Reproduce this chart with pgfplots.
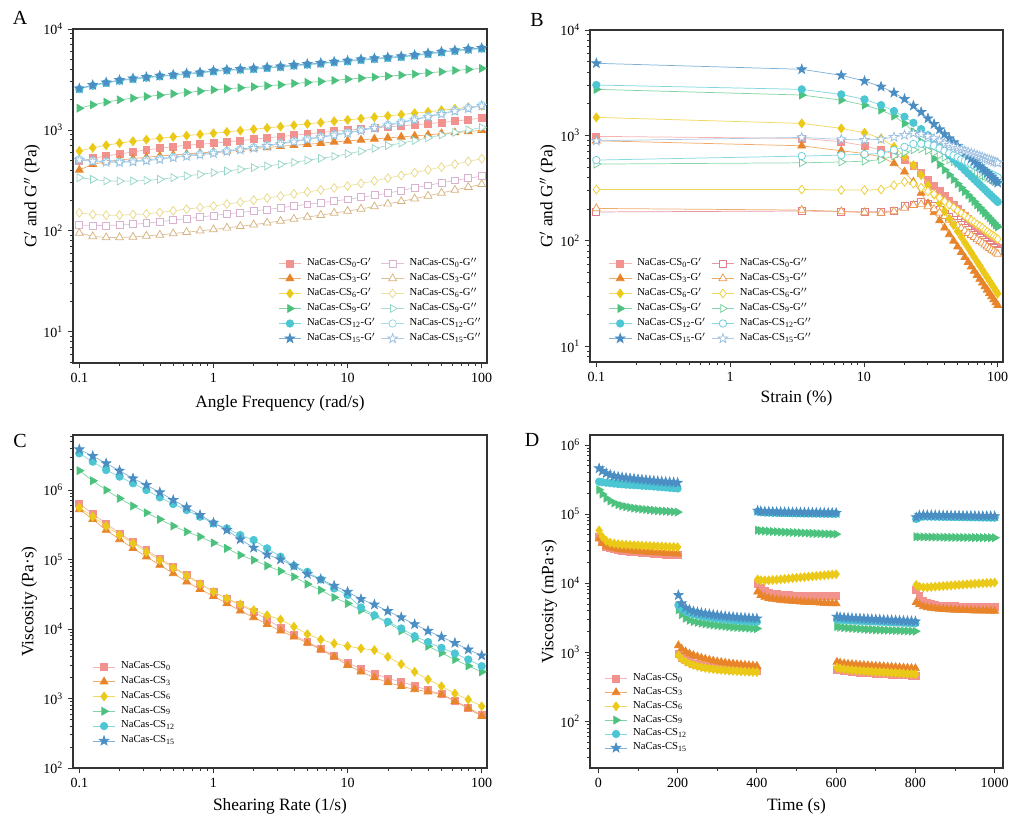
\documentclass[border=0pt]{standalone}
\usepackage{fontspec}
\setmainfont{Liberation Serif}
\usepackage{pgfplots}
\pgfplotsset{compat=1.18}
\usepackage{pgfplotstable}

\definecolor{cP}{HTML}{F2928F}
\definecolor{cO}{HTML}{E8852A}
\definecolor{cY}{HTML}{EBC918}
\definecolor{cG}{HTML}{4CC27E}
\definecolor{cC}{HTML}{4CC6D2}
\definecolor{cB}{HTML}{4A8EC4}
\definecolor{lP}{HTML}{D8B2CF}
\definecolor{lO}{HTML}{D6B27E}
\definecolor{lY}{HTML}{E8D986}
\definecolor{lG}{HTML}{93D5C6}
\definecolor{lC}{HTML}{8DD6E2}
\definecolor{lB}{HTML}{99BEE0}
\colorlet{bP}{cP!85!violet}
\colorlet{bO}{cO!85}
\colorlet{bY}{cY!90}
\colorlet{bG}{cG!80}
\colorlet{bC}{cC!85}
\definecolor{axc}{HTML}{333333}

\pgfdeclareplotmark{fstar}{%
 \pgfpathmoveto{\pgfqpoint{0pt}{\pgfplotmarksize}}%
 \pgfpathlineto{\pgfqpoint{0.235\pgfplotmarksize}{0.324\pgfplotmarksize}}%
 \pgfpathlineto{\pgfqpoint{0.951\pgfplotmarksize}{0.309\pgfplotmarksize}}%
 \pgfpathlineto{\pgfqpoint{0.380\pgfplotmarksize}{-0.124\pgfplotmarksize}}%
 \pgfpathlineto{\pgfqpoint{0.588\pgfplotmarksize}{-0.809\pgfplotmarksize}}%
 \pgfpathlineto{\pgfqpoint{0pt}{-0.4\pgfplotmarksize}}%
 \pgfpathlineto{\pgfqpoint{-0.588\pgfplotmarksize}{-0.809\pgfplotmarksize}}%
 \pgfpathlineto{\pgfqpoint{-0.380\pgfplotmarksize}{-0.124\pgfplotmarksize}}%
 \pgfpathlineto{\pgfqpoint{-0.951\pgfplotmarksize}{0.309\pgfplotmarksize}}%
 \pgfpathlineto{\pgfqpoint{-0.235\pgfplotmarksize}{0.324\pgfplotmarksize}}%
 \pgfpathclose
 \pgfusepathqfillstroke}

\pgfplotsset{
 mk0/.style={mark=square*, mark size=2.6pt},
 mk3/.style={mark=triangle*, mark size=3.4pt},
 mk6/.style={mark=diamond*, mark size=3.3pt},
 mk9/.style={mark=triangle*, mark size=3.4pt, every mark/.append style={rotate=-90}},
 mk12/.style={mark=*, mark size=2.8pt},
 mk15/.style={mark=fstar, mark size=3.7pt},
 cc/.style={color=#1!70, every mark/.append style={draw=#1, fill=#1}},
 oc/.style={color=#1!80, every mark/.append style={draw=#1, fill=white}},
 every axis plot/.append style={line width=0.55pt},
}
\newcommand{\sn}[1]{NaCas-CS\textsubscript{#1}}

\pgfplotstableread{
x g0 g3 g6 g9 g12 g15 h0 h3 h6 h9 h12 h15
0.1 492 401 619 1641 2535 2574 114 95 151 336 512 504
0.1259 523 456 665 1772 2736 2778 113 88 145 324 495 488
0.1585 552 485 705 1883 2909 2953 113 86 143 312 486 479
0.1995 578 504 740 1986 3068 3115 114 86 143 311 484 477
0.2512 605 519 772 2064 3186 3235 116 87 145 312 490 483
0.3162 633 535 800 2144 3286 3336 119 89 147 316 504 496
0.3981 658 552 828 2210 3388 3440 123 91 152 324 518 510
0.5012 683 565 852 2279 3466 3519 128 94 158 336 540 532
0.6310 704 578 878 2349 3573 3627 132 97 164 350 557 549
0.7943 721 591 903 2422 3655 3711 137 100 170 363 576 567
1 737 605 927 2497 3797 3855 142 103 176 377 596 587
1.259 760 619 955 2555 3886 3945 147 107 184 392 620 611
1.585 784 638 985 2614 3946 4006 152 111 192 407 645 635
1.995 808 653 1015 2675 4006 4067 157 115 201 423 672 662
2.512 833 668 1047 2736 4099 4161 163 120 211 439 703 692
3.162 859 688 1079 2799 4193 4257 169 125 221 456 737 726
3.981 885 704 1112 2886 4323 4389 176 131 232 478 775 763
5.012 913 721 1147 2953 4424 4491 183 137 243 500 815 803
6.310 941 737 1183 3021 4526 4595 190 143 254 523 856 843
7.943 970 760 1219 3091 4667 4738 197 150 266 547 898 885
10 992 778 1257 3187 4774 4847 205 157 278 580 941 927
12.59 1023 796 1296 3261 4922 4997 215 165 295 615 1000 985
15.85 1047 814 1336 3336 5036 5113 225 174 312 655 1060 1044
19.95 1071 833 1377 3413 5153 5231 236 185 332 700 1125 1108
25.12 1096 852 1420 3492 5273 5353 251 196 354 740 1195 1177
31.62 1121 872 1464 3573 5435 5518 267 208 377 785 1277 1258
39.81 1156 892 1509 3684 5647 5733 282 222 402 835 1365 1345
50.12 1183 920 1568 3769 5866 5955 299 237 428 890 1460 1438
63.10 1219 941 1617 3886 6048 6140 316 254 457 945 1555 1532
79.43 1267 963 1679 3976 6235 6330 332 271 487 1000 1655 1630
100 1306 992 1731 4067 6380 6477 349 289 519 1055 1758 1732
}\tA

\pgfplotstableread{
x g0 g3 g6 g9 g12 g15 h0 h3 h6 h9 h12 h15
0.1 980 890 1483 2735 3007 4830 188 203 307 535 584 890
3.43 937 798 1300 2416 2735 4238 192 196 307 550 637 957
6.77 872 715 1166 2163 2450 3715 190 190 303 560 650 917
10.1 798 674 1060 1940 2197 3283 188 186 303 570 665 905
13.43 726 627 937 1740 1940 2900 190 184 307 590 675 920
16.77 666 542 781 1527 1703 2543 192 190 337 640 726 965
20.1 590 452 637 1300 1503 2213 213 205 363 690 780 1007
23.43 510 363 523 1083 1318 1914 222 218 350 730 830 1050
26.77 441 284 420 871 1148 1666 232 222 320 745 835 1030
30.1 381 226 337 726 1007 1449 225 212 295 720 825 985
33.43 334 186 274 603 891 1282 214 200 278 690 800 937
36.77 297 156 227 530 793 1141 197 185 256 652 754 890
40.1 266 133 191 471 714 1027 182 171 237 620 713 840
43.43 241 115 163 423 647 937 169 158 220 591 678 809
46.77 220 99.9 141 382 591 860 159 149 207 565 647 782
50.1 202 88.0 123 348 544 794 149 140 194 543 620 757
53.43 186 78.1 109 319 503 737 141 132 183 522 595 735
56.77 172 69.8 96.4 294 467 687 133 125 173 504 573 715
60.1 161 62.8 86.2 272 435 643 126 118 164 487 552 696
63.43 150 56.9 77.5 253 408 604 120 113 156 472 534 679
66.77 141 51.7 70.0 236 383 569 115 108 150 458 517 663
70.1 133 47.3 63.6 220 361 538 110 103 143 445 501 649
73.43 125 43.4 58.1 207 341 509 106 99 138 432 486 635
76.77 118 40.0 53.2 195 323 484 102 96 133 421 473 622
80.1 112 36.9 48.9 184 307 461 97.7 92 127 411 460 609
83.43 107 34.3 45.1 174 292 439 94.1 88 122 401 449 598
86.77 101 31.9 41.8 165 278 420 90.9 85 118 392 438 587
90.1 96.8 29.7 38.8 157 266 402 87.9 82 114 383 427 577
93.43 92.6 27.8 36.1 149 254 385 85.0 80 111 375 418 567
96.77 88.6 26.0 33.7 142 244 370 82.4 77 107 367 408 558
100 85 24.5 31.6 136 234 356 80 75 104 360 400 550
}\tB

\pgfplotstableread{
x c0 c3 c6 c9 c12 c15
0.1 6.43e5 5.27e5 5.63e5 1.90e6 3.37e6 3.85e6
0.1259 4.51e5 3.79e5 4.13e5 1.36e6 2.56e6 3.09e6
0.1585 3.31e5 2.66e5 3.04e5 1.00e6 1.94e6 2.42e6
0.1995 2.38e5 1.95e5 2.25e5 7.59e5 1.56e6 1.90e6
0.2512 1.80e5 1.45e5 1.71e5 5.89e5 1.25e6 1.47e6
0.3162 1.37e5 1.10e5 1.29e5 4.72e5 1.00e6 1.18e6
0.3981 1.04e5 8.32e4 9.82e4 3.79e5 7.84e5 9.26e5
0.5012 7.87e4 6.31e4 7.61e4 3.04e5 6.29e5 7.18e5
0.6310 5.97e4 4.79e4 5.84e4 2.51e5 5.15e5 5.63e5
0.7943 4.53e4 3.75e4 4.43e4 2.13e5 4.13e5 4.37e5
1 3.44e4 2.97e4 3.44e4 1.74e5 3.31e5 3.38e5
1.259 2.75e4 2.33e4 2.75e4 1.45e5 2.81e5 2.66e5
1.585 2.21e4 1.83e4 2.26e4 1.16e5 2.25e5 1.95e5
1.995 1.77e4 1.47e4 1.87e4 9.82e4 1.91e5 1.48e5
2.512 1.37e4 1.17e4 1.58e4 8.13e4 1.45e5 1.18e5
3.162 1.05e4 9.42e3 1.37e4 6.81e4 1.10e5 1.00e5
3.981 8.16e3 7.72e3 1.08e4 5.65e4 8.13e4 8.10e4
5.012 6.54e3 6.33e3 8.44e3 4.43e4 6.66e4 6.20e4
6.310 5.25e3 5.07e3 7.06e3 3.63e4 5.17e4 5.20e4
7.943 4.07e3 3.98e3 6.19e3 2.85e4 3.84e4 4.20e4
10 3.26e3 3.02e3 5.67e3 2.33e4 3.08e4 3.43e4
12.59 2.70e3 2.42e3 5.25e3 1.87e4 2.04e4 2.69e4
15.85 2.29e3 2.00e3 4.97e3 1.53e4 1.58e4 2.25e4
19.95 1.94e3 1.70e3 3.98e3 1.23e4 1.27e4 1.81e4
25.12 1.74e3 1.50e3 3.12e3 9.42e3 1.02e4 1.47e4
31.62 1.52e3 1.35e3 2.42e3 7.31e3 7.90e3 1.17e4
39.81 1.32e3 1.25e3 1.88e3 5.67e3 6.50e3 9.40e3
50.12 1.15e3 1.14e3 1.50e3 4.54e3 5.36e3 7.70e3
63.10 925 915 1.18e3 3.64e3 4.45e3 6.30e3
79.43 741 718 966 2.95e3 3.64e3 5.07e3
100 575 556 774 2.42e3 2.92e3 4.16e3
}\tC

\pgfplotstableread{
t d0 d3 d6 d9 d12 d15
2 47000 44000 58000 225000 295000 460000
10 39000 38000 47000 195000 290000 420000
20 34000 34500 41000 170000 285000 390000
30 32000 33000 38500 155000 281000 370000
40 31000 32000 37500 145000 277000 355000
50 30200 31200 36800 137000 273000 347000
60 29600 30600 36300 132000 270000 340000
70 29100 30100 36000 128000 267000 335000
80 28700 29700 35700 125000 265000 330000
90 28300 29300 35500 122000 263000 325000
100 28000 29000 35300 120000 261000 320000
110 27700 28700 35000 118000 258000 316000
120 27400 28400 34800 116500 256000 312000
130 27100 28100 34600 115000 254000 308000
140 26800 27900 34400 113500 251000 304000
150 26500 27700 34200 112000 248000 300000
160 26200 27500 34000 111000 246000 297000
170 26000 27300 33800 110000 243000 294000
180 25800 27100 33600 109000 240000 291000
190 25600 26900 33400 108000 238000 288000
200 25400 26700 33200 107000 235000 285000
201 nan nan nan nan nan nan
202 945 1250 900 4100 4800 6700
210 840 1120 800 3500 4300 5100
220 767 1020 730 3100 3900 4400
230 719 950 685 2900 3700 4100
240 683 900 650 2780 3550 3900
250 656 860 625 2700 3450 3800
260 635 825 605 2630 3350 3700
270 620 795 590 2570 3270 3620
280 607 770 578 2520 3200 3550
290 596 750 568 2480 3140 3480
300 588 730 560 2440 3090 3420
310 581 715 553 2400 3040 3370
320 574 700 547 2370 3000 3320
330 568 688 541 2340 2960 3280
340 563 677 536 2310 2920 3240
350 558 667 531 2290 2890 3200
360 553 658 527 2270 2860 3170
370 549 650 523 2250 2830 3140
380 546 642 520 2230 2800 3110
390 543 635 517 2210 2780 3090
400 540 628 514 2200 2760 3070
401 nan nan nan nan nan nan
402 9900 7500 11300 58500 108600 112000
410 8500 6700 11000 57500 106700 110000
420 7700 6300 10950 57000 105700 109000
430 7300 6050 11000 56500 105200 108500
440 7050 5900 11100 56000 104800 108000
450 6900 5800 11200 55600 104300 107500
460 6800 5700 11350 55200 103800 107000
470 6730 5630 11500 54800 103600 106800
480 6680 5560 11650 54500 103300 106500
490 6640 5500 11800 54200 103000 106200
500 6610 5450 11950 53900 102800 106000
510 6590 5400 12100 53600 102600 105800
520 6570 5350 12250 53300 102400 105600
530 6560 5310 12400 53000 102200 105400
540 6550 5270 12550 52700 102000 105200
550 6540 5230 12700 52400 101900 105000
560 6530 5190 12850 52100 101700 104800
570 6520 5150 13000 51800 101500 104600
580 6510 5120 13150 51600 101300 104400
590 6500 5090 13300 51400 101100 104200
600 6490 5060 13450 51200 100900 104000
601 nan nan nan nan nan nan
602 560 720 600 2350 3000 3250
610 545 700 580 2300 2950 3200
620 535 685 567 2270 2920 3170
630 527 675 558 2240 2900 3140
640 520 667 551 2220 2880 3110
650 514 660 545 2200 2860 3090
660 508 653 539 2180 2840 3070
670 503 647 534 2160 2820 3050
680 498 641 529 2140 2800 3030
690 494 635 524 2130 2790 3010
700 490 630 520 2110 2780 2990
710 486 625 516 2100 2760 2970
720 482 620 512 2090 2750 2950
730 478 615 508 2080 2730 2930
740 474 610 504 2070 2720 2910
750 470 605 500 2060 2700 2890
760 467 600 496 2050 2690 2870
770 464 595 492 2040 2670 2850
780 461 590 488 2030 2660 2830
790 458 586 484 2020 2640 2810
800 455 582 480 2010 2630 2790
801 nan nan nan nan nan nan
802 7900 5300 9400 47000 85000 90000
810 6500 4900 8900 46800 90000 96000
820 5600 4600 8700 46700 92000 97000
830 5200 4450 8700 46600 92000 96800
840 5000 4350 8800 46500 91800 96500
850 4850 4280 8900 46400 91600 96200
860 4770 4230 8990 46300 91400 96000
870 4720 4190 9080 46200 91200 95800
880 4680 4160 9170 46100 91000 95600
890 4650 4130 9260 46000 90800 95400
900 4620 4100 9350 45950 90600 95200
910 4600 4080 9440 45900 90400 95000
920 4590 4060 9530 45850 90200 94800
930 4580 4040 9620 45800 90000 94600
940 4570 4020 9710 45750 89800 94400
950 4560 4000 9800 45700 89600 94200
960 4550 3990 9880 45650 89400 94000
970 4540 3980 9960 45600 89200 93800
980 4530 3970 10040 45550 89000 93600
990 4520 3960 10120 45500 88800 93400
1000 4510 3950 10200 45450 88600 93200
}\tD

\pgfplotsset{every axis/.append style={
  scale only axis, clip mode=individual,
  axis line style={line width=0.8pt, axc},
  every tick/.style={line width=0.6pt, axc},
  tick align=outside, tick pos=left,
  major tick length=4pt, minor tick length=2.4pt,
  ticklabel style={font=\fontsize{10.5}{12}\selectfont},
  label style={font=\fontsize{13}{15}\selectfont},
  legend style={draw=none, fill=none, font=\fontsize{8}{9.5}\selectfont,
   anchor=north west, inner xsep=0pt, inner ysep=0pt,
   nodes={inner sep=1pt, text depth=0.25em}, row sep=0.6pt, column sep=3pt},
  legend cell align=left,
  unbounded coords=jump,
  enlargelimits=false,
}}

\begin{document}
\begin{tikzpicture}
\path[use as bounding box] (0,0) rectangle (768pt,624pt);

% ---------------- A
\begin{axis}[at={(54.75pt,351.75pt)}, anchor=south west,
 width=310.5pt, height=250.5pt,
 xmode=log, xmin=0.0897, xmax=109.5,
 xtick={0.1,1,10,100}, xticklabels={0.1,1,10,100},
 minor xtick={0.2,0.3,0.4,0.5,0.6,0.7,0.8,0.9,2,3,4,5,6,7,8,9,20,30,40,50,60,70,80,90},
 ymode=log, ymin=4.9, ymax=10000,
 ytick={10,100,1000,10000},
 yticklabels={10\textsuperscript{1},10\textsuperscript{2},10\textsuperscript{3},10\textsuperscript{4}},
 minor ytick={5,6,7,8,9,20,30,40,50,60,70,80,90,200,300,400,500,600,700,800,900,2000,3000,4000,5000,6000,7000,8000,9000},
 xlabel={Angle Frequency (rad/s)}, ylabel={G$'$ and G$''$ (Pa)},
 xlabel style={at={(axis description cs:0.5,-0.12)}, anchor=center},
 ylabel style={at={(axis description cs:-0.099,0.5)}, anchor=center},
 legend columns=2,
 legend style={at={(0.495,0.32)}},
]
\addplot[mk0,cc=cP] table[x=x,y=g0]{\tA}; \addlegendentry{\sn{0}-G$'$}
\addplot[mk0,oc=lP] table[x=x,y=h0]{\tA}; \addlegendentry{\sn{0}-G$''$}
\addplot[mk3,cc=cO] table[x=x,y=g3]{\tA}; \addlegendentry{\sn{3}-G$'$}
\addplot[mk3,oc=lO] table[x=x,y=h3]{\tA}; \addlegendentry{\sn{3}-G$''$}
\addplot[mk6,cc=cY] table[x=x,y=g6]{\tA}; \addlegendentry{\sn{6}-G$'$}
\addplot[mk6,oc=lY] table[x=x,y=h6]{\tA}; \addlegendentry{\sn{6}-G$''$}
\addplot[mk9,cc=cG] table[x=x,y=g9]{\tA}; \addlegendentry{\sn{9}-G$'$}
\addplot[mk9,oc=lG] table[x=x,y=h9]{\tA}; \addlegendentry{\sn{9}-G$''$}
\addplot[mk12,cc=cC] table[x=x,y=g12]{\tA}; \addlegendentry{\sn{12}-G$'$}
\addplot[mk12,oc=lC] table[x=x,y=h12]{\tA}; \addlegendentry{\sn{12}-G$''$}
\addplot[mk15,cc=cB] table[x=x,y=g15]{\tA}; \addlegendentry{\sn{15}-G$'$}
\addplot[mk15,oc=lB] table[x=x,y=h15]{\tA}; \addlegendentry{\sn{15}-G$''$}
\end{axis}

% ---------------- B
\begin{axis}[at={(442.5pt,352.5pt)}, anchor=south west,
 width=309.75pt, height=249pt,
 xmode=log, xmin=0.0897, xmax=109.5,
 xtick={0.1,1,10,100}, xticklabels={0.1,1,10,100},
 minor xtick={0.2,0.3,0.4,0.5,0.6,0.7,0.8,0.9,2,3,4,5,6,7,8,9,20,30,40,50,60,70,80,90},
 ymode=log, ymin=7.1, ymax=10000,
 ytick={10,100,1000,10000},
 yticklabels={10\textsuperscript{1},10\textsuperscript{2},10\textsuperscript{3},10\textsuperscript{4}},
 minor ytick={8,9,20,30,40,50,60,70,80,90,200,300,400,500,600,700,800,900,2000,3000,4000,5000,6000,7000,8000,9000},
 xlabel={Strain (\%)}, ylabel={G$'$ and G$''$ (Pa)},
 xlabel style={at={(axis description cs:0.5,-0.108)}, anchor=center},
 ylabel style={at={(axis description cs:-0.102,0.5)}, anchor=center},
 legend columns=2,
 legend style={at={(0.044,0.319)}},
]
\addplot[mk0,cc=cP] table[x=x,y=g0]{\tB}; \addlegendentry{\sn{0}-G$'$}
\addplot[mk0,oc=bP] table[x=x,y=h0]{\tB}; \addlegendentry{\sn{0}-G$''$}
\addplot[mk3,cc=cO] table[x=x,y=g3]{\tB}; \addlegendentry{\sn{3}-G$'$}
\addplot[mk3,oc=bO] table[x=x,y=h3]{\tB}; \addlegendentry{\sn{3}-G$''$}
\addplot[mk6,cc=cY] table[x=x,y=g6]{\tB}; \addlegendentry{\sn{6}-G$'$}
\addplot[mk6,oc=bY] table[x=x,y=h6]{\tB}; \addlegendentry{\sn{6}-G$''$}
\addplot[mk9,cc=cG] table[x=x,y=g9]{\tB}; \addlegendentry{\sn{9}-G$'$}
\addplot[mk9,oc=bG] table[x=x,y=h9]{\tB}; \addlegendentry{\sn{9}-G$''$}
\addplot[mk12,cc=cC] table[x=x,y=g12]{\tB}; \addlegendentry{\sn{12}-G$'$}
\addplot[mk12,oc=bC] table[x=x,y=h12]{\tB}; \addlegendentry{\sn{12}-G$''$}
\addplot[mk15,cc=cB] table[x=x,y=g15]{\tB}; \addlegendentry{\sn{15}-G$'$}
\addplot[mk15,oc=lB] table[x=x,y=h15]{\tB}; \addlegendentry{\sn{15}-G$''$}
\end{axis}

% ---------------- C
\begin{axis}[at={(54.75pt,48pt)}, anchor=south west,
 width=310.5pt, height=249.75pt,
 xmode=log, xmin=0.0897, xmax=109.5,
 xtick={0.1,1,10,100}, xticklabels={0.1,1,10,100},
 minor xtick={0.2,0.3,0.4,0.5,0.6,0.7,0.8,0.9,2,3,4,5,6,7,8,9,20,30,40,50,60,70,80,90},
 ymode=log, ymin=100, ymax=6.2e6,
 ytick={100,1000,10000,100000,1000000},
 yticklabels={10\textsuperscript{2},10\textsuperscript{3},10\textsuperscript{4},10\textsuperscript{5},10\textsuperscript{6}},
 minor ytick={200,300,400,500,600,700,800,900,2000,3000,4000,5000,6000,7000,8000,9000,2e4,3e4,4e4,5e4,6e4,7e4,8e4,9e4,2e5,3e5,4e5,5e5,6e5,7e5,8e5,9e5,2e6,3e6,4e6,5e6,6e6},
 xlabel={Shearing Rate (1/s)}, ylabel={Viscosity (Pa·s)},
 xlabel style={at={(axis description cs:0.5,-0.114)}, anchor=center},
 ylabel style={at={(axis description cs:-0.106,0.5)}, anchor=center},
 legend style={at={(0.046,0.324)}, row sep=1.3pt},
]
\addplot[mk0,cc=cP] table[x=x,y=c0]{\tC}; \addlegendentry{\sn{0}}
\addplot[mk3,cc=cO] table[x=x,y=c3]{\tC}; \addlegendentry{\sn{3}}
\addplot[mk6,cc=cY] table[x=x,y=c6]{\tC}; \addlegendentry{\sn{6}}
\addplot[mk9,cc=cG] table[x=x,y=c9]{\tC}; \addlegendentry{\sn{9}}
\addplot[mk12,cc=cC] table[x=x,y=c12]{\tC}; \addlegendentry{\sn{12}}
\addplot[mk15,cc=cB] table[x=x,y=c15]{\tC}; \addlegendentry{\sn{15}}
\end{axis}

% ---------------- D
\begin{axis}[at={(442.5pt,48pt)}, anchor=south west,
 width=309.75pt, height=249.75pt,
 xmin=-21, xmax=1021,
 xtick={0,200,400,600,800,1000}, xticklabels={0,200,400,600,800,1000},
 minor xtick={100,300,500,700,900},
 ymode=log, ymin=21, ymax=1.4e6,
 ytick={100,1000,10000,100000,1000000},
 yticklabels={10\textsuperscript{2},10\textsuperscript{3},10\textsuperscript{4},10\textsuperscript{5},10\textsuperscript{6}},
 minor ytick={30,40,50,60,70,80,90,200,300,400,500,600,700,800,900,2000,3000,4000,5000,6000,7000,8000,9000,2e4,3e4,4e4,5e4,6e4,7e4,8e4,9e4,2e5,3e5,4e5,5e5,6e5,7e5,8e5,9e5},
 xlabel={Time (s)}, ylabel={Viscosity (mPa·s)},
 xlabel style={at={(axis description cs:0.5,-0.116)}, anchor=center},
 ylabel style={at={(axis description cs:-0.099,0.5)}, anchor=center},
 legend style={at={(0.034,0.289)}},
]
\addplot[mk0,cc=cP] table[x=t,y=d0]{\tD}; \addlegendentry{\sn{0}}
\addplot[mk3,cc=cO] table[x=t,y=d3]{\tD}; \addlegendentry{\sn{3}}
\addplot[mk6,cc=cY] table[x=t,y=d6]{\tD}; \addlegendentry{\sn{6}}
\addplot[mk9,cc=cG] table[x=t,y=d9]{\tD}; \addlegendentry{\sn{9}}
\addplot[mk12,cc=cC] table[x=t,y=d12]{\tD}; \addlegendentry{\sn{12}}
\addplot[mk15,cc=cB] table[x=t,y=d15]{\tD}; \addlegendentry{\sn{15}}
\end{axis}

\node[font=\fontsize{15}{17}\selectfont] at (15pt,610.5pt) {A};
\node[font=\fontsize{15}{17}\selectfont] at (402.75pt,609pt) {B};
\node[font=\fontsize{15}{17}\selectfont] at (15pt,293.25pt) {C};
\node[font=\fontsize{15}{17}\selectfont] at (399pt,294pt) {D};
\end{tikzpicture}
\end{document}
